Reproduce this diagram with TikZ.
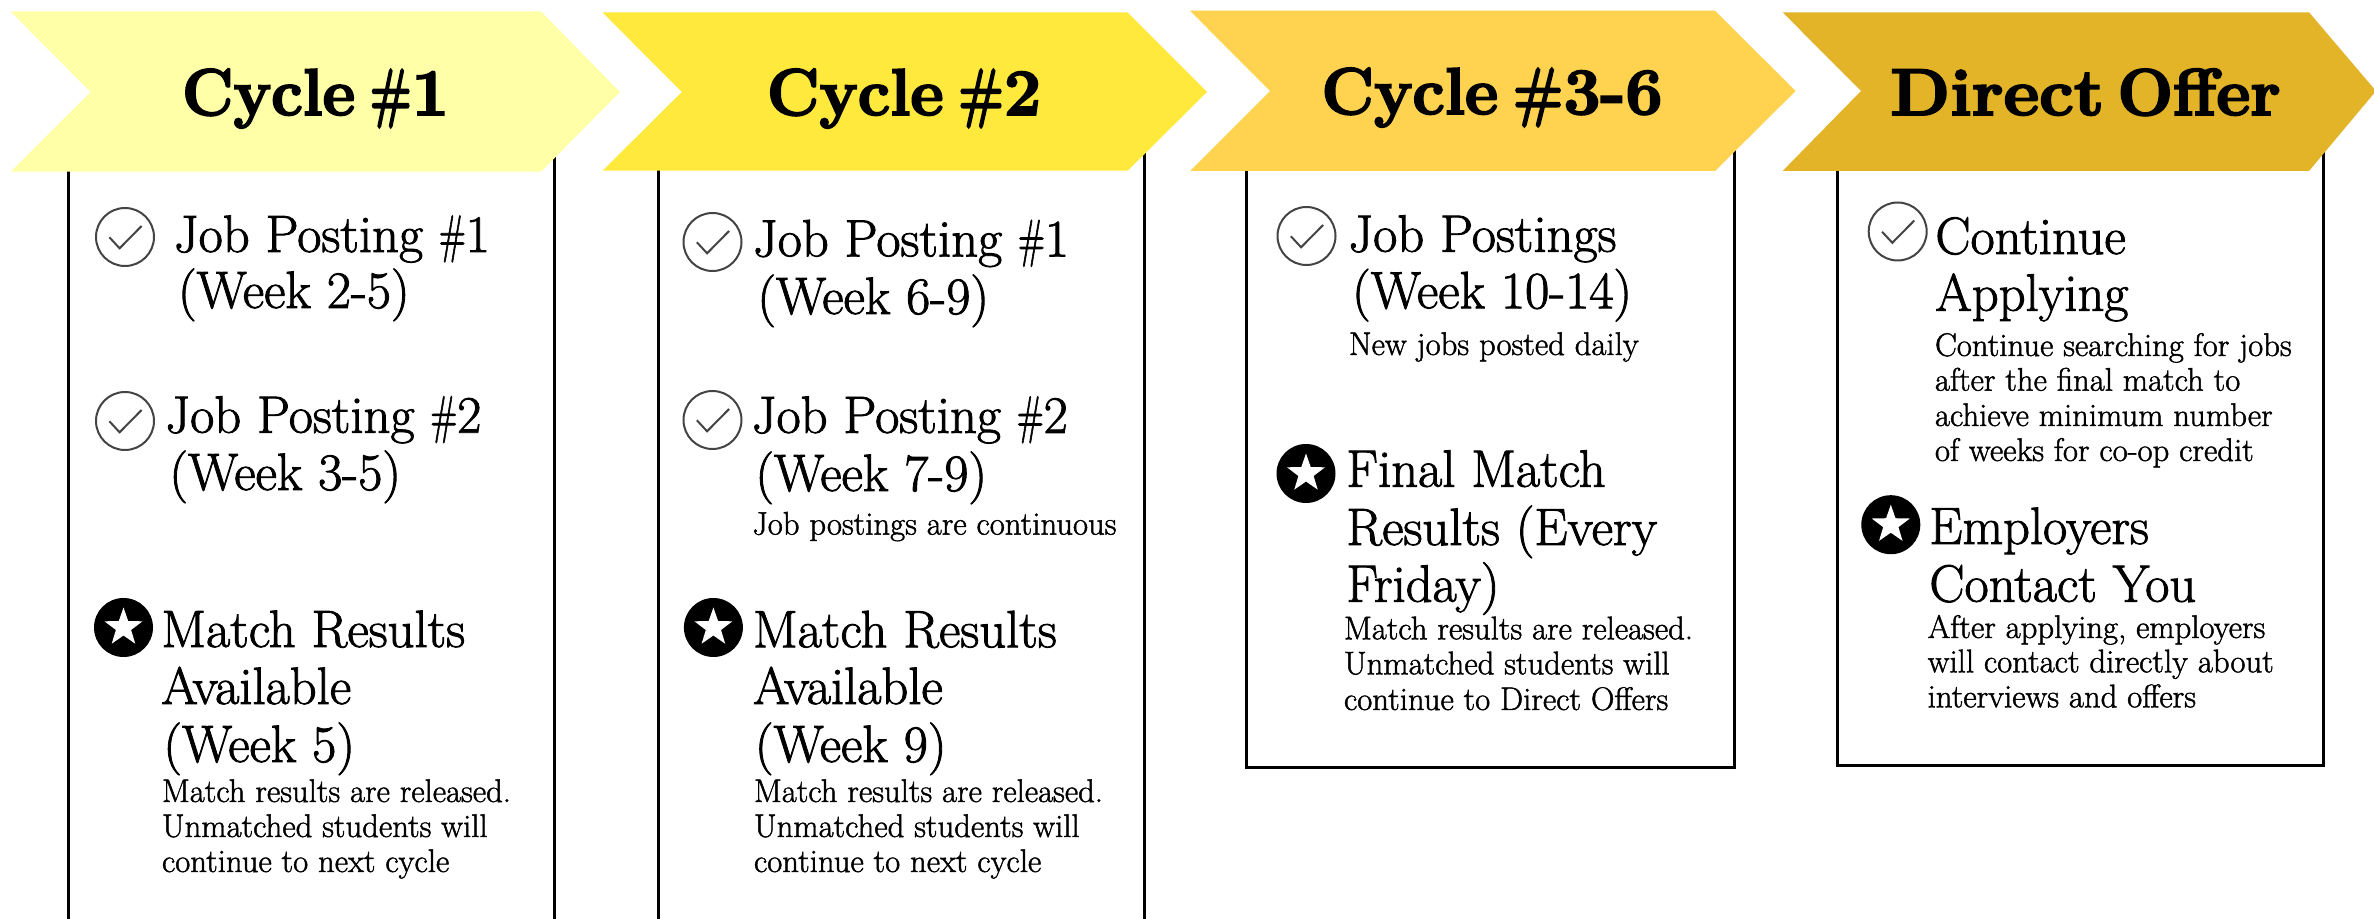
\documentclass[tikz,border=0pt]{standalone}
\usepackage{fontspec}
\setmainfont[FakeBold=1.6]{Latin Modern Roman}
\newfontfamily\smallface[FakeBold=1.4]{Latin Modern Roman}
\newfontfamily\headface[FakeBold=3]{Latin Modern Roman}
\usetikzlibrary{shapes.geometric}
\definecolor{cA}{HTML}{FFFFA8}
\definecolor{cB}{HTML}{FFE93D}
\definecolor{cC}{HTML}{FFD34F}
\definecolor{cD}{HTML}{E3B428}
\definecolor{iconline}{HTML}{444444}
\tikzset{
  px/.style={x=0.5pt,y=-0.5pt},
  frameline/.style={black,line width=1.5pt},
  head/.style={anchor=base,inner sep=0pt,font=\fontsize{33}{33}\selectfont\headface\bfseries},
  big/.style={anchor=base west,inner sep=0pt,xshift=-1pt,font=\fontsize{26.3}{27}\selectfont},
  small/.style={anchor=base west,inner sep=0pt,xshift=-0.7pt,font=\fontsize{16.35}{17}\selectfont\smallface},
  checkring/.style={circle,draw=iconline,line width=1pt,minimum size=29pt,inner sep=0pt},
  starring/.style={circle,fill=black,minimum size=29.5pt,inner sep=0pt},
  whitestar/.style={star,star points=5,star point ratio=2.5,fill=white,minimum size=20pt,inner sep=0pt}
}
\newcommand{\chevronband}[8]{% color, left, notch, shoulder, tip, top, bottom, mid
  \fill[#1] (#2,#6) -- (#4,#6) -- (#5,#8) -- (#4,#7) -- (#2,#7) -- (#3,#8) -- cycle;}
\newcommand{\checkicon}[3]{%
  \node[checkring] (#1) at (#2,#3) {};
  \draw[iconline,line width=1pt] ([shift={(-15.6,0.3)}]#1.center) -- ([shift={(-5.4,11.3)}]#1.center) -- ([shift={(16.6,-11)}]#1.center);}
\newcommand{\staricon}[3]{%
  \node[starring] (#1) at (#2,#3) {};
  \node[whitestar] (#1s) at (#1.center) {};}
\newcommand{\hdword}[2]{\scalebox{#1}[1]{#2}}
\newcommand{\nar}{\scalebox{.66}[1]{\#}}
\begin{document}
\begin{tikzpicture}[px]
\useasboundingbox (0,0) rectangle (2374,919);
\fill[white] (0,0) rectangle (2374,919);
% frames
\draw[frameline] (68,168) -- (68,930);
\draw[frameline] (554,130) -- (554,930);
\draw[frameline] (658,168) -- (658,930);
\draw[frameline] (1144,130) -- (1144,930);
\draw[frameline] (1246.5,168) -- (1246.5,767) -- (1734,767) -- (1734,130);
\draw[frameline] (1837.5,168) -- (1837.5,765) -- (2323.5,765) -- (2323.5,130);
% chevrons
\chevronband{cA}{10.6}{90.6}{541}{620}{11.5}{171.7}{92}
\chevronband{cB}{602.6}{681.8}{1127.7}{1207}{12.5}{170.7}{92}
\chevronband{cC}{1190}{1270}{1715}{1795.6}{10.7}{171}{91}
\chevronband{cD}{1782.6}{1861}{2309}{2376}{12.3}{171}{91}
\node[head] (h1) at (315.5,115) {\hdword{.96}{Cycle}\hspace{.22em}\hdword{.68}{\#}1};
\node[head] (h2) at (904,115) {\hdword{.98}{Cycle}\hspace{.22em}\hdword{.74}{\#}2};
\node[head] (h3) at (1492,114) {\hdword{.98}{Cycle}\hspace{.22em}\hdword{.82}{\#}3-6};
\node[head] (h4) at (2085.5,115) {\hdword{1.05}{Direct}\hspace{.2em}\hdword{1.0}{Offer}};
% column 1
\checkicon{c1a}{125}{237}
\checkicon{c1b}{125}{421}
\staricon{s1}{123.5}{627.5}
\node[big] (a1) at (175.5,252) {Job Posting \nar1};
\node[big] (a2) at (179.6,308) {(Week 2-5)};
\node[big] (a3) at (167,432.7) {Job Posting \nar2};
\node[big] (a4) at (171,490) {(Week 3-5)};
\node[big] (a5) at (163,647) {Match Results};
\node[big] (a6) at (163,704) {Available};
\node[big] (a7) at (165,762) {(Week 5)};
\node[small] (a8) at (163,802) {Match results are released.};
\node[small] (a9) at (163,837) {Unmatched students will};
\node[small] (a10) at (163,872) {continue to next cycle};
% column 2
\checkicon{c2a}{712.5}{242}
\checkicon{c2b}{712.5}{420}
\staricon{s2}{713.4}{627.5}
\node[big] (b1) at (754.6,256.4) {Job Posting \nar1};
\node[big] (b2) at (759,314) {(Week 6-9)};
\node[big] (b3) at (753.4,432.9) {Job Posting \nar2};
\node[big] (b4) at (757,491) {(Week 7-9)};
\node[small] (b5) at (753.4,534.6) {Job postings are continuous};
\node[big] (b6) at (754.6,647.3) {Match Results};
\node[big] (b7) at (754.6,704) {Available};
\node[big] (b8) at (756.5,762) {(Week 9)};
\node[small] (b9) at (755,802) {Match results are released.};
\node[small] (b10) at (755,837) {Unmatched students will};
\node[small] (b11) at (755,872) {continue to next cycle};
% column 3
\checkicon{c3a}{1306.5}{236}
\staricon{s3}{1306}{473.5}
\node[big] (d1) at (1350,251.7) {Job Postings};
\node[big] (d2) at (1353.7,308.3) {(Week 10-14)};
\node[small] (d3) at (1350,355) {New jobs posted daily};
\node[big] (d4) at (1348,486.7) {Final Match};
\node[big] (d5) at (1348,545) {Results (Every};
\node[big] (d6) at (1348,601.7) {Friday)};
\node[small] (d7) at (1345,639.3) {Match results are released.};
\node[small] (d8) at (1345,674.3) {Unmatched students will};
\node[small] (d9) at (1345,710) {continue to Direct Offers};
% column 4
\checkicon{c4a}{1897.7}{231.5}
\staricon{s4}{1890.8}{524.7}
\node[big] (e1) at (1937,254) {Continue};
\node[big] (e2) at (1937,310.7) {Applying};
\node[small] (e3) at (1936,356) {Continue searching for jobs};
\node[small] (e4) at (1936,390.7) {after the final match to};
\node[small] (e5) at (1936,426) {achieve minimum number};
\node[small] (e6) at (1936,461) {of weeks for co-op credit};
\node[big] (e7) at (1931,544) {Employers};
\node[big] (e8) at (1931,601.7) {Contact You};
\node[small] (e9) at (1928.7,638) {After applying, employers};
\node[small] (e10) at (1928.7,672.3) {will contact directly about};
\node[small] (e11) at (1928.7,707.3) {interviews and offers};
\end{tikzpicture}
\end{document}
